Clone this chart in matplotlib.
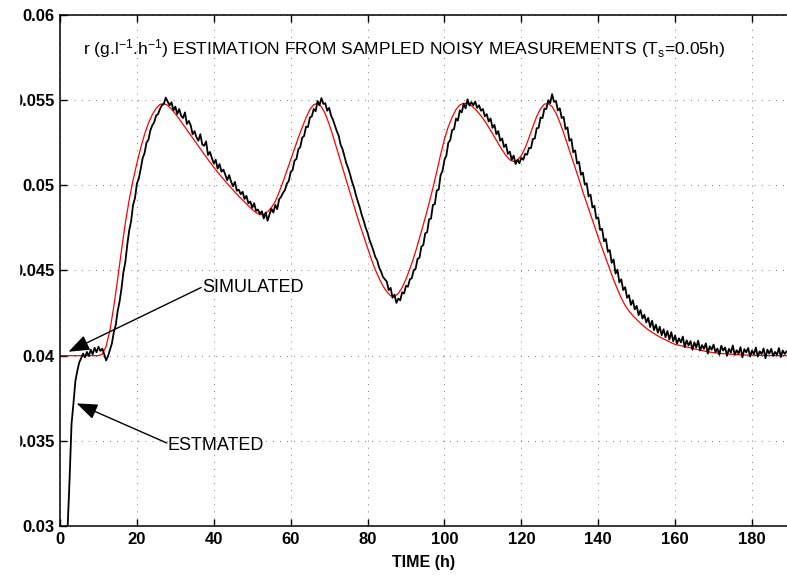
import numpy as np
import matplotlib
matplotlib.use("Agg")
import matplotlib.pyplot as plt
from matplotlib.patches import Rectangle

# specific rate r, stored in units of 1e-5 g/l/h
# simulated r, one value per hour
t_sim = list(range(0, 190))
r_sim = [4000] * 11 + [
    4008, 4055, 4150, 4290, 4450, 4620, 4780, 4915, 5030, 5130,
    5220, 5300, 5365, 5415, 5452, 5475, 5480, 5470, 5448, 5420,
    5390, 5358, 5326, 5294, 5262, 5230, 5198, 5167, 5136, 5106,
    5077, 5050, 5024, 4998, 4973, 4948, 4925, 4903, 4880, 4858,
    4840, 4828, 4830, 4845, 4870, 4905, 4960, 5020, 5085, 5150,
    5215, 5280, 5340, 5398, 5445, 5474, 5480, 5462, 5420, 5360,
    5290, 5215, 5140, 5065, 4990, 4915, 4840, 4768, 4700, 4630,
    4565, 4505, 4455, 4410, 4375, 4352, 4348, 4365, 4400, 4450,
    4510, 4575, 4650, 4730, 4810, 4895, 4985, 5080, 5180, 5270,
    5345, 5400, 5445, 5472, 5482, 5480, 5468, 5448, 5422, 5393,
    5360, 5323, 5285, 5245, 5208, 5175, 5150, 5140, 5148, 5175,
    5220, 5280, 5345, 5405, 5450, 5477, 5480, 5462, 5425, 5370,
    5308, 5240, 5172, 5103, 5035, 4962, 4895, 4828, 4760, 4695,
    4632, 4570, 4508, 4445, 4390, 4338, 4295, 4262, 4235, 4212,
    4190, 4170, 4152, 4137, 4123, 4110, 4098, 4088, 4076, 4066,
    4061, 4056, 4051, 4046, 4040, 4035, 4030, 4025, 4021, 4018,
    4015, 4013, 4011, 4009, 4008, 4006, 4005, 4004, 4003, 4003,
    4002, 4002, 4001, 4001, 4001, 4000, 4000, 4000, 4000,
]

# estimated r from the noisy samples, every 0.5 h
t_est = [i * 0.5 for i in range(379)]
r_est = [
    1200, 1700, 2200, 2650, 3000, 3280, 3600, 3720, 3850, 3910,
    3960, 3985, 4012, 3990, 4022, 3998, 4035, 4008, 4046, 4020,
    4052, 4028, 4041, 4008, 3972, 3998, 4035, 4072, 4138, 4180,
    4262, 4318, 4395, 4492, 4550, 4652, 4735, 4790, 4885, 4925,
    5010, 5040, 5098, 5160, 5190, 5250, 5268, 5322, 5352, 5370,
    5410, 5418, 5448, 5470, 5478, 5515, 5492, 5470, 5488, 5440,
    5462, 5418, 5448, 5410, 5395, 5428, 5360, 5378, 5352, 5300,
    5318, 5282, 5262, 5300, 5240, 5232, 5258, 5178, 5196, 5160,
    5128, 5150, 5098, 5125, 5080, 5092, 5062, 5030, 5060, 5022,
    4995, 5020, 4968, 4975, 4948, 4962, 4920, 4938, 4895, 4905,
    4868, 4895, 4850, 4858, 4832, 4848, 4805, 4840, 4792, 4830,
    4862, 4840, 4885, 4860, 4918, 4932, 4955, 4972, 5010, 5025,
    5078, 5090, 5145, 5155, 5212, 5225, 5280, 5290, 5345, 5342,
    5398, 5405, 5448, 5435, 5495, 5470, 5512, 5478, 5482, 5438,
    5455, 5410, 5385, 5352, 5318, 5290, 5238, 5212, 5170, 5128,
    5098, 5060, 5018, 4985, 4940, 4905, 4868, 4825, 4792, 4752,
    4722, 4680, 4650, 4618, 4580, 4560, 4518, 4495, 4462, 4448,
    4435, 4385, 4398, 4340, 4358, 4310, 4335, 4325, 4372, 4365,
    4410, 4405, 4448, 4455, 4502, 4510, 4568, 4575, 4640, 4650,
    4718, 4725, 4800, 4805, 4885, 4890, 4970, 4975, 5060, 5085,
    5150, 5175, 5250, 5265, 5325, 5330, 5392, 5380, 5440, 5428,
    5478, 5452, 5505, 5468, 5488, 5470, 5492, 5455, 5470, 5438,
    5448, 5405, 5418, 5375, 5392, 5338, 5355, 5300, 5318, 5262,
    5275, 5225, 5240, 5185, 5198, 5150, 5175, 5125, 5150, 5130,
    5162, 5150, 5185, 5180, 5220, 5218, 5272, 5275, 5335, 5338,
    5398, 5395, 5450, 5448, 5500, 5482, 5535, 5490, 5495, 5440,
    5452, 5395, 5402, 5330, 5340, 5262, 5272, 5195, 5205, 5128,
    5138, 5062, 5075, 5005, 5012, 4935, 4945, 4870, 4880, 4805,
    4812, 4738, 4745, 4672, 4685, 4610, 4620, 4545, 4565, 4482,
    4505, 4430, 4448, 4385, 4402, 4340, 4355, 4298, 4325, 4272,
    4292, 4238, 4268, 4218, 4240, 4195, 4222, 4168, 4205, 4150,
    4182, 4135, 4170, 4120, 4155, 4108, 4145, 4095, 4138, 4085,
    4118, 4072, 4102, 4078, 4112, 4050, 4090, 4060, 4085, 4035,
    4078, 4048, 4088, 4030, 4062, 4040, 4072, 4012, 4055, 4035,
    4065, 4020, 4042, 4005, 4058, 4030, 4048, 4000, 4040, 4018,
    4060, 4005, 4032, 4012, 4050, 3990, 4038, 4020, 4045, 3995,
    4030, 4008, 4048, 3995, 4025, 4010, 4042, 3985, 4035, 4012,
    4040, 3998, 4022, 4005, 4045, 3992, 4030, 4010, 4025,
]

x_ticks = [0, 20, 40, 60, 80, 100, 120, 140, 160, 180]
y_ticks = [0.03, 0.035, 0.04, 0.045, 0.05, 0.055, 0.06]
y_ticklabels = ["0.03", "0.035", "0.04", "0.045", "0.05", "0.055", "0.06"]

plt.rcParams["font.family"] = ["Liberation Sans", "DejaVu Sans"]
plt.rcParams["mathtext.fontset"] = "custom"
plt.rcParams["mathtext.rm"] = "Liberation Sans"
plt.rcParams["mathtext.default"] = "regular"

fig = plt.figure(figsize=(7.87, 5.78), dpi=100)
ax = fig.add_axes([60 / 787, 52 / 578, 727 / 787, 511 / 578])

ax.plot(t_sim, np.array(r_sim) / 1e5, color="red", lw=0.9)
ax.plot(t_est, np.array(r_est) / 1e5, color="black", lw=1.3)

ax.set_xlim(0, 189.1)
ax.set_ylim(0.03, 0.06)
ax.set_xticks(x_ticks)
ax.set_xticklabels([str(v) for v in x_ticks])
ax.set_yticks(y_ticks)
ax.set_yticklabels(y_ticklabels)
ax.tick_params(direction="in", top=True, right=False, length=5, width=1,
               labelsize=12, pad=4)
for lab in ax.get_xticklabels() + ax.get_yticklabels():
    lab.set_fontweight("bold")
ax.grid(True, linestyle=(0, (1, 7.5)), color="0.3", lw=0.6)
for s in ["left", "bottom", "top"]:
    ax.spines[s].set_linewidth(1.1)
ax.spines["right"].set_visible(False)

ax.set_xlabel("TIME (h)", fontsize=11.5, fontweight="bold", labelpad=6)

ax.text(0.032, 0.935,
        r"r (g.l$^{-1}$.h$^{-1}$) ESTIMATION FROM SAMPLED NOISY MEASUREMENTS (T$_{s}$=0.05h)",
        transform=ax.transAxes, fontsize=12.6, ha="left", va="center")

arrow = dict(arrowstyle="-|>,head_length=0.8,head_width=0.3", color="black",
             lw=1, mutation_scale=16, shrinkA=0, shrinkB=0)
ax.annotate("", xy=(2.2, 0.04023), xytext=(36.7, 0.0440), arrowprops=arrow)
ax.text(36.9, 0.0440, "SIMULATED", fontsize=13, ha="left", va="center")
ax.annotate("", xy=(4.3, 0.0372), xytext=(27.8, 0.03487), arrowprops=arrow)
ax.text(28.0, 0.0347, "ESTMATED", fontsize=13, ha="left", va="center")

# blank left margin strip
fig.patches.append(Rectangle((0, 0), 19 / 787, 1, transform=fig.transFigure,
                             color="white", zorder=10))

fig.savefig("out.png", dpi=100)
